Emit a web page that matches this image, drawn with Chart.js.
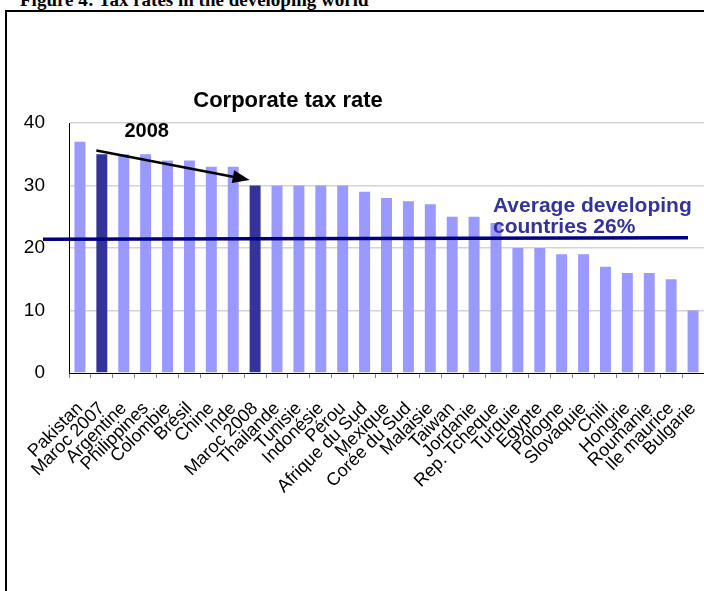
<!DOCTYPE html>
<html>
<head>
<meta charset="utf-8">
<script src="https://cdn.jsdelivr.net/npm/chart.js@4.4.1/dist/chart.umd.min.js"></script>
<style>
    html, body { margin: 0; padding: 0; width: 704px; height: 591px; overflow: hidden; background: #fff; }
    #heading { position: absolute; left: 20px; top: -11px; line-height: 20px; font: bold 19px "Liberation Serif", "Times New Roman", serif; white-space: nowrap; }
    #frame { position: absolute; left: 5px; top: 10px; width: 760px; height: 640px; border: 2px solid #000; }
    #taxChart { position: absolute; left: 0; top: 0; }
</style>
</head>
<body>
<div id="heading">Figure 4: Tax rates in the developing world</div>
<div id="frame"></div>
<canvas id="taxChart" width="704" height="591"></canvas>
<script>
// 국가 목록
const categories = ['Pakistan', 'Maroc 2007', 'Argentine', 'Philippines', 'Colombie', 'Brésil', 'Chine', 'Inde',
    'Maroc 2008', 'Thailande', 'Tunisie', 'Indonésie', 'Pérou', 'Afrique du Sud', 'Mexique', 'Corée du Sud',
    'Malaisie', 'Taiwan', 'Jordanie', 'Rep. Tcheque', 'Turquie', 'Egypte', 'Pologne', 'Slovaquie', 'Chili',
    'Hongrie', 'Roumanie', 'Ile maurice', 'Bulgarie'];

// 법인세율 (%)
const taxRates = [37, 35, 35, 35, 34, 34, 33, 33, 30, 30, 30, 30, 30, 29, 28, 27.5, 27, 25, 25, 24, 20, 20, 19, 19, 17, 16, 16, 15, 10];

// 진한 색으로 표시할 막대
const highlighted = ['Maroc 2007', 'Maroc 2008'];

// y축 눈금
const yTicks = [0, 10, 20, 30, 40];

// 평균선 (왼쪽 끝, 오른쪽 끝 값)
const averageLine = [21.4, 21.65];
const averageLabel = ['Average developing', 'countries 26%'];

// 화살표 주석
const arrowLabel = '2008';
const arrowFrom = ['Maroc 2007', 35.6];
const arrowTo = ['Maroc 2008', 30.9];

const chartTitle = 'Corporate tax rate';

Chart.defaults.font.family = '"Liberation Sans", Arial, sans-serif';
Chart.defaults.color = '#000';

// 제목, 평균선, 화살표, 글자 그리기
const annotations = {
    id: 'annotations',
    afterDatasetsDraw(chart) {
        const { ctx, chartArea, scales: { x, y } } = chart;
        const bars = chart.getDatasetMeta(0).data;
        ctx.save();

        // 제목
        ctx.fillStyle = '#000';
        ctx.font = 'bold 22px "Liberation Sans", Arial, sans-serif';
        ctx.textAlign = 'center';
        ctx.textBaseline = 'alphabetic';
        ctx.fillText(chartTitle, chartArea.left + 219, chartArea.top - 16);

        // 평균선
        ctx.strokeStyle = '#000080';
        ctx.lineWidth = 3.5;
        ctx.beginPath();
        ctx.moveTo(chartArea.left - 26, y.getPixelForValue(averageLine[0]));
        ctx.lineTo(chartArea.right - 16, y.getPixelForValue(averageLine[1]));
        ctx.stroke();

        // 평균 설명
        const labelBar = bars[categories.indexOf('Rep. Tcheque')];
        ctx.fillStyle = '#333399';
        ctx.font = 'bold 21px "Liberation Sans", Arial, sans-serif';
        ctx.textAlign = 'left';
        ctx.fillText(averageLabel[0], labelBar.x - 3, y.getPixelForValue(25.8));
        ctx.fillText(averageLabel[1], labelBar.x - 3, y.getPixelForValue(22.45));

        // 화살표
        const a = bars[categories.indexOf(arrowFrom[0])];
        const b = bars[categories.indexOf(arrowTo[0])];
        const x1 = a.x - a.width / 2, y1 = y.getPixelForValue(arrowFrom[1]);
        const x2 = b.x - b.width / 2, y2 = y.getPixelForValue(arrowTo[1]);
        const ang = Math.atan2(y2 - y1, x2 - x1);
        const headLen = 17, headW = 6.5;
        const bx = x2 - headLen * Math.cos(ang), by = y2 - headLen * Math.sin(ang);
        ctx.strokeStyle = '#000';
        ctx.fillStyle = '#000';
        ctx.lineWidth = 2.5;
        ctx.beginPath();
        ctx.moveTo(x1, y1);
        ctx.lineTo(bx, by);
        ctx.stroke();
        ctx.beginPath();
        ctx.moveTo(x2, y2);
        ctx.lineTo(bx + headW * Math.sin(ang), by - headW * Math.cos(ang));
        ctx.lineTo(bx - headW * Math.sin(ang), by + headW * Math.cos(ang));
        ctx.closePath();
        ctx.fill();

        // 2008 글자
        const p = bars[categories.indexOf('Philippines')];
        ctx.font = 'bold 20px "Liberation Sans", Arial, sans-serif';
        ctx.textAlign = 'center';
        ctx.textBaseline = 'middle';
        ctx.fillText(arrowLabel, p.x + 1, y.getPixelForValue(38.6));

        ctx.restore();
    }
};

function initTaxChart() {
    const ctx = document.getElementById('taxChart').getContext('2d');
    new Chart(ctx, {
        type: 'bar',
        data: {
            labels: categories,
            datasets: [{
                data: taxRates,
                backgroundColor: categories.map(c => highlighted.includes(c) ? '#333399' : '#9999ff'),
                barPercentage: 0.5,
                categoryPercentage: 1.0
            }]
        },
        options: {
            responsive: false,
            animation: false,
            layout: { padding: { top: 123, left: 0, right: 0, bottom: 0 } },
            plugins: {
                legend: { display: false },
                tooltip: { enabled: false },
                title: { display: false }
            },
            scales: {
                x: {
                    grid: { display: true, drawOnChartArea: false, drawTicks: true, tickLength: 5, color: '#808080', offset: true },
                    border: { color: '#000', width: 1 },
                    ticks: { autoSkip: false, maxRotation: 45, minRotation: 45, padding: 20, font: { size: 18 } },
                    afterFit(scale) {
                        scale.height = 218;
                        scale.paddingRight = 0;
                    }
                },
                y: {
                    min: 0,
                    max: 40,
                    afterBuildTicks(scale) { scale.ticks = yTicks.map(v => ({ value: v })); },
                    grid: { color: c => c.tick.value === 0 ? 'rgba(0,0,0,0)' : '#d4d4d4', lineWidth: 1.5, drawTicks: false },
                    border: { color: '#000', width: 1 },
                    ticks: { padding: 24, font: { size: 19 } },
                    afterFit(scale) { scale.width = 69; }
                }
            }
        },
        plugins: [annotations]
    });
}

document.addEventListener('DOMContentLoaded', initTaxChart);
</script>
</body>
</html>
